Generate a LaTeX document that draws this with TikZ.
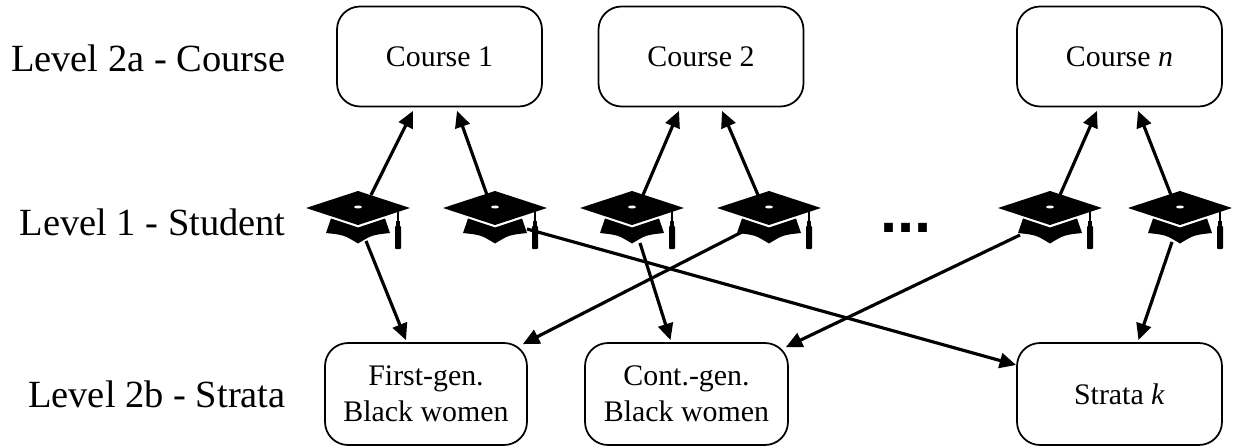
\documentclass[tikz,border=0pt]{standalone}
\usepackage{fontspec}
\setmainfont{Liberation Serif}
\newfontfamily\dotsfont{Liberation Sans}
\usetikzlibrary{arrows.meta, positioning, calc}

\tikzset{
  levellabel/.style={anchor=east, inner sep=0pt, font=\fontsize{21.9}{26}\selectfont},
  roundbox/.style={draw, line width=1pt, rounded corners=0.46cm, align=center,
    minimum width=4.1cm, minimum height=2cm, font=\fontsize{17}{20.5}\selectfont},
  capnode/.style={minimum size=1.6cm, inner sep=0pt},
  link/.style={line width=1.8pt, -{Triangle[length=0.33cm, width=0.3cm]}},
  gradcap/.pic={
    \fill (-52,0) -- (0,-17) -- (52,0) -- (0,17) -- cycle;
    \fill[white] (0,-1) ellipse (4 and 1.5);
    \fill (-27,10.5) -- (0,19.5) -- (27,10.5) -- (32,25) .. controls (14,27) .. (0,35.5) .. controls (-14,27) .. (-32,25) -- cycle;
    \draw[line width=0.6pt] (40,3) -- (40,13);
    \fill (38,13) rectangle (42,19);
    \fill[rounded corners=0.5pt] (37,18) rectangle (43,41);
  }
}

\begin{document}
\begin{tikzpicture}[x=0.02cm, y=-0.02cm]
  \useasboundingbox (0,0) rectangle (1235,446);

  % level labels
  \node[levellabel] (lab2a) at (286,58) {Level 2a - Course};
  \node[levellabel] (lab1) at (286,222) {Level 1 - Student};
  \node[levellabel] (lab2b) at (286,394) {Level 2b - Strata};

  % courses
  \node[roundbox] (course1) at (439.5,56.5) {Course 1};
  \node[roundbox] (course2) at (701,56.5) {Course 2};
  \node[roundbox] (coursen) at (1119.5,56.5) {Course \textit{n}};

  % strata
  \node[roundbox, minimum width=4.04cm, minimum height=2.04cm] (first) at (426,394) {First-gen.\\Black women};
  \node[roundbox, minimum width=4.06cm, minimum height=2.04cm] (cont) at (686.5,394) {Cont.-gen.\\Black women};
  \node[roundbox, minimum height=2.04cm] (stratak) at (1119.5,394) {Strata \textit{k}};

  % students
  \foreach \name/\x in {capa/358, capb/495, capc/632, capd/769, cape/1050, capf/1180} {
    \node[capnode] (\name) at (\x,208) {};
    \pic at (\name) {gradcap};
  }
  \node[anchor=base, inner sep=0pt, font=\fontsize{35}{36}\selectfont\dotsfont\bfseries] (dots) at (906,233) {...};

  % student to course
  \draw[link] ($(capa)+(13,-13)$) -- ($(course1.south)+(-26.5,3.5)$);
  \draw[link] ($(capb)+(-8,-13)$) -- ($(course1.south)+(17.5,3.5)$);
  \draw[link] ($(capc)+(11,-13)$) -- ($(course2.south)+(-22,3.5)$);
  \draw[link] ($(capd)+(-11,-13)$) -- ($(course2.south)+(21,3.5)$);
  \draw[link] ($(cape)+(10,-13)$) -- ($(coursen.south)+(-22.5,3.5)$);
  \draw[link] ($(capf)+(-9,-13)$) -- ($(coursen.south)+(18.5,3.5)$);

  % student to strata
  \draw[link] ($(capa)+(8,33)$) -- ($(first.north)+(-20,-2)$);
  \draw[link] ($(capb)+(32,21)$) -- ($(stratak.west)+(0,-29)$);
  \draw[link] ($(capc)+(8,35)$) -- ($(cont.north)+(-16,-2)$);
  \draw[link] ($(capd)+(-27,24)$) -- ($(first.north east)+(-5,2)$);
  \draw[link] ($(cape)+(-30,27)$) -- ($(cont.north east)+(-3,5)$);
  \draw[link] ($(capf)+(-8,34)$) -- ($(stratak.north)+(19,-2)$);
\end{tikzpicture}
\end{document}
